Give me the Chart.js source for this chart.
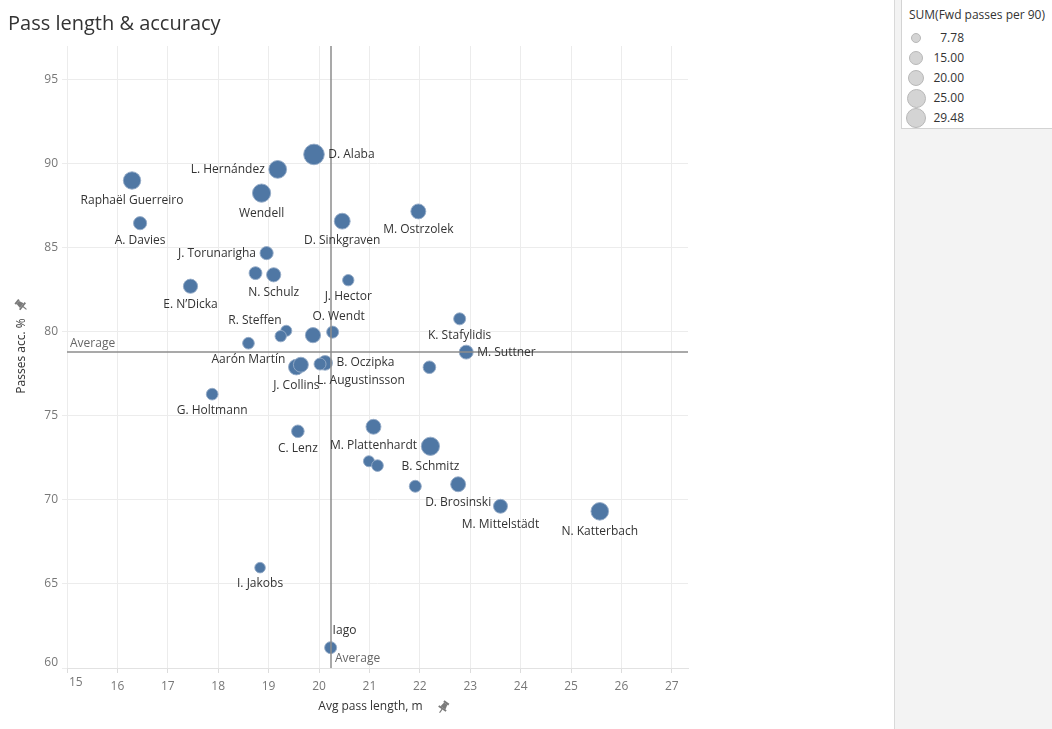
<!DOCTYPE html>
<html><head><meta charset="utf-8">
<script src="https://cdn.jsdelivr.net/npm/chart.js@4.4.1/dist/chart.umd.min.js"></script>
<style>
html,body{margin:0;padding:0;background:#fff;width:1052px;height:729px;overflow:hidden;font-family:"Open Sans",sans-serif;}
#title{position:absolute;left:8px;top:9px;font-size:20px;color:#333;white-space:nowrap;}
#wrap{position:absolute;left:0;top:0;width:895px;height:729px;}
#side{position:absolute;left:894px;top:0;width:158px;height:729px;background:#f3f3f3;border-left:1px solid #d9d9d9;box-sizing:border-box;}
#legend{position:absolute;left:901px;top:0;width:151px;height:129px;background:#fff;border-left:1px solid #d3d3d3;border-bottom:1px solid #d3d3d3;box-sizing:border-box;}
#legend .lt{position:absolute;left:7px;top:6px;font-size:12px;color:#333;white-space:nowrap;}
#legend .it{position:absolute;left:0;width:150px;height:20px;}
#legend .dot{position:absolute;border-radius:50%;background:#d4d4d4;border:1px solid #b8b8b8;box-sizing:border-box;}
#legend .val{position:absolute;left:24px;width:38px;text-align:right;font-size:12px;color:#333;line-height:20px;}
</style>
</head><body>
<div id="wrap"><canvas id="c" width="895" height="729"></canvas></div>
<div id="title">Pass length &amp; accuracy</div>
<div id="side"></div>
<div id="legend"><div class="lt">SUM(Fwd passes per 90)</div></div>
<script>
// ---- data ----
const players = ["D. Alaba","L. Hernández","Raphaël Guerreiro","Wendell","A. Davies","D. Sinkgraven","M. Ostrzolek","J. Torunarigha","","N. Schulz","E. N’Dicka","J. Hector","K. Stafylidis","O. Wendt","","R. Steffen","","Aarón Martín","M. Suttner","J. Collins","","B. Oczipka","L. Augustinsson","","G. Holtmann","C. Lenz","M. Plattenhardt","B. Schmitz","","","","D. Brosinski","M. Mittelstädt","N. Katterbach","I. Jakobs","Iago"];
const avgPassLength = [19.90,19.18,16.29,18.86,16.45,20.46,21.97,18.96,18.74,19.10,17.45,20.58,22.79,20.27,19.35,19.24,19.88,18.60,22.92,19.55,19.64,20.12,20.02,22.19,17.88,19.58,21.08,22.21,20.99,21.16,21.91,22.76,23.60,25.57,18.83,20.23];
const passAccuracy = [90.55,89.66,89.00,88.25,86.46,86.58,87.16,84.68,83.49,83.39,82.71,83.07,80.77,79.98,80.06,79.74,79.80,79.32,78.79,77.90,78.04,78.15,78.08,77.89,76.29,74.08,74.35,73.19,72.30,72.04,70.81,70.93,69.62,69.32,65.97,61.21];
const fwdPassesPer90 = [29.48,22,21,23,12,17.5,15.5,12,11.5,14,14,9,10,10,8.5,9,16,9.5,13.5,17,15.5,15,10,11,9.5,11,15.5,23,8.5,9.5,10,15.5,13.5,21.5,7.78,10];
const labelPlacement = ["r","l","b","b","b","b","b","l","","b","b","b","b","t","","tl","","b","r","b","","r","br","","b","b","b","b","","","","b","b","b","b","tr"];
const legendValues = [7.78,15.00,20.00,25.00,29.48];
const xTicks = [15,16,17,18,19,20,21,22,23,24,25,26,27];
const yTicks = [60,65,70,75,80,85,90,95];
const avgLength = 20.23;
const avgAccuracy = 78.77;

const FONT = '"Open Sans", sans-serif';
function radiusFor(v){ return 1.9*Math.sqrt(v); }

// legend
const lg = document.getElementById('legend');
legendValues.forEach((v,i)=>{
  const it = document.createElement('div'); it.className='it'; it.style.top=(28+i*20)+'px';
  const r = radiusFor(v);
  const d = document.createElement('div'); d.className='dot';
  d.style.width=(2*r)+'px'; d.style.height=(2*r)+'px';
  d.style.left=(14-r)+'px'; d.style.top=(10-r)+'px';
  const t = document.createElement('div'); t.className='val'; t.textContent=v.toFixed(2);
  it.appendChild(d); it.appendChild(t); lg.appendChild(it);
});

function drawPin(ctx, x, y, rot){
  ctx.save(); ctx.translate(x,y); ctx.rotate(rot); ctx.fillStyle='#7a7a7a'; ctx.strokeStyle='#7a7a7a';
  ctx.fillRect(-3,-6,6,2);
  ctx.beginPath(); ctx.moveTo(-2,-4); ctx.lineTo(2,-4); ctx.lineTo(3,1); ctx.lineTo(-3,1); ctx.closePath(); ctx.fill();
  ctx.fillRect(-4.5,1,9,1.8);
  ctx.lineWidth=1.2; ctx.beginPath(); ctx.moveTo(0,2.5); ctx.lineTo(0,7); ctx.stroke();
  ctx.restore();
}

const overlay = {
  id:'overlay',
  afterDatasetsDraw(chart){
    const ctx = chart.ctx, a = chart.chartArea, xs = chart.scales.x, ys = chart.scales.y;
    ctx.save();
    // reference lines
    ctx.strokeStyle='rgba(140,140,140,0.75)'; ctx.lineWidth=2;
    const ay = Math.round(ys.getPixelForValue(avgAccuracy));
    const ax = Math.round(xs.getPixelForValue(avgLength));
    ctx.beginPath(); ctx.moveTo(a.left, ay); ctx.lineTo(a.right, ay); ctx.stroke();
    ctx.beginPath(); ctx.moveTo(ax, a.top); ctx.lineTo(ax, a.bottom); ctx.stroke();
    ctx.font='12px '+FONT; ctx.fillStyle='#666';
    ctx.textAlign='left'; ctx.textBaseline='middle';
    ctx.fillText('Average', a.left+3, ay-8);
    ctx.fillText('Average', ax+4, a.bottom-9);
    // point labels
    const meta = chart.getDatasetMeta(0);
    ctx.fillStyle='#333'; ctx.font='12px '+FONT;
    players.forEach((name,i)=>{
      if(!name) return;
      const el = meta.data[i]; const r = chart.data.datasets[0].data[i].r;
      const x = el.x, y = el.y, p = labelPlacement[i];
      ctx.textBaseline='middle';
      if(p==='r'){ ctx.textAlign='left'; ctx.fillText(name, x+r+4, y); }
      else if(p==='l'){ ctx.textAlign='right'; ctx.fillText(name, x-r-4, y); }
      else if(p==='b'){ ctx.textAlign='center'; ctx.fillText(name, x, y+r+11); }
      else if(p==='br'){ ctx.textAlign='left'; ctx.fillText(name, x-3, y+r+11); }
      else if(p==='t'){ ctx.textAlign='center'; ctx.fillText(name, x+6, y-r-10); }
      else if(p==='tl'){ ctx.textAlign='right'; ctx.fillText(name, x+1, y-r-10); }
      else if(p==='tr'){ ctx.textAlign='left'; ctx.fillText(name, x+2, y-r-11); }
    });
    ctx.restore();
  },
  afterDraw(chart){
    const ctx = chart.ctx, a = chart.chartArea, xs = chart.scales.x, ys = chart.scales.y;
    ctx.save();
    // edge tick labels shifted inward (as the original does)
    ctx.font='12px '+FONT; ctx.fillStyle='#777';
    ctx.textAlign='left'; ctx.textBaseline='middle';
    ctx.fillText(String(xTicks[0]), xs.getPixelForValue(xTicks[0])+2, 683);
    ctx.textAlign='right'; ctx.textBaseline='bottom';
    ctx.fillText(String(yTicks[0]), 58, ys.getPixelForValue(yTicks[0])+1);
    // axis titles
    ctx.font='12px '+FONT; ctx.fillStyle='#333'; ctx.textBaseline='middle';
    const cx = (a.left+a.right)/2;
    ctx.textAlign='center'; ctx.fillText('Avg pass length, m', cx-7, 707);
    drawPin(ctx, cx+66, 707, 0.6);
    ctx.translate(22, 356); ctx.rotate(-Math.PI/2);
    ctx.fillText('Passes acc. %', 0, 0);
    ctx.restore();
    drawPin(ctx, 21, 305, -0.9);
  }
};

new Chart(document.getElementById('c'), {
  type:'bubble',
  data:{ datasets:[{
    data: avgPassLength.map((x,i)=>({x:x, y:passAccuracy[i], r:radiusFor(fwdPassesPer90[i])})),
    backgroundColor:'#4f77a4', borderColor:'rgba(150,172,200,0.9)', borderWidth:1
  }]},
  options:{
    responsive:false, animation:false, events:[],
    layout:{padding:{left:0,right:207,top:46,bottom:0}},
    plugins:{legend:{display:false}, tooltip:{enabled:false}},
    scales:{
      x:{ type:'linear', min:15, max:27.32,
        afterBuildTicks(s){ s.ticks = xTicks.map(v=>({value:v})); },
        afterFit(s){ s.height = 61; },
        ticks:{ font:{family:FONT,size:12}, color:'#777', padding:6, includeBounds:false,
          callback:(v)=> v===xTicks[0] ? '' : String(v) },
        grid:{ color:'#ececec', tickLength:5, tickColor:'#dcdcdc' },
        border:{ display:true, color:'#e2e2e2' }
      },
      y:{ type:'linear', min:60, max:97,
        afterBuildTicks(s){ s.ticks = yTicks.map(v=>({value:v})); },
        afterFit(s){ s.width = 67; },
        ticks:{ font:{family:FONT,size:12}, color:'#777', padding:4, includeBounds:false,
          callback:(v)=> v===yTicks[0] ? '' : String(v) },
        grid:{ color:'#ececec', tickLength:5 },
        border:{ display:false }
      }
    }
  },
  plugins:[overlay]
});
</script>
</body></html>
